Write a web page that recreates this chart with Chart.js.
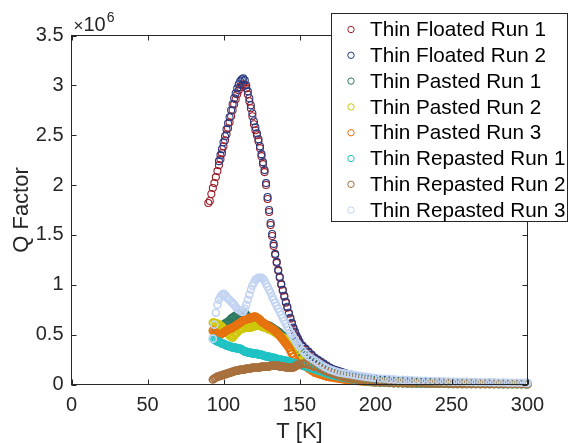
<!DOCTYPE html>
<html>
<head>
<meta charset="utf-8">
<script src="https://cdn.jsdelivr.net/npm/chart.js@4.4.1/dist/chart.umd.min.js"></script>
<style>
  html, body { margin: 0; padding: 0; background: #fff; }
  #wrap { width: 569px; height: 443px; }
</style>
</head>
<body>
<div id="wrap"><canvas id="qChart" width="569" height="443"></canvas></div>
<script>
// temperature grid [K] shared by every run (null = no sample at that T)
const temps = [
  90, 91, 92, 93, 94, 95, 96, 97, 98, 99,
  100, 101, 102, 103, 104, 105, 106, 107, 108, 109,
  110, 111, 112, 113, 114, 115, 116, 117, 118, 119,
  120, 121, 122, 123, 124, 125, 126, 127, 128, 129,
  130, 131, 132, 133, 134, 135, 136, 137, 138, 139,
  140, 141, 142, 143, 144, 145, 146, 147, 148, 149,
  150, 152, 154, 156, 158, 160, 162, 164, 166, 168,
  170, 172, 174, 176, 178, 180, 182, 184, 186, 188,
  190, 192, 194, 196, 198, 200,
  203, 206, 209, 212, 215, 218, 221, 224, 227, 230,
  233, 236, 239, 242, 245, 248, 251, 254, 257, 260,
  263, 266, 269, 272, 275, 278, 281, 284, 287, 290,
  293, 296, 299, 300
];

// Q factor, in units of 1e6
const floated1 = [
  1.82, 1.84, 1.91, 1.97, 2.02, 2.08, 2.14, 2.2, 2.26, 2.32,
  2.39, 2.45, 2.51, 2.57, 2.63, 2.69, 2.75, 2.81, 2.86, 2.91,
  2.95, 2.98, 3.0, 3.01, 3.0, 2.97, 2.91, 2.84, 2.77, 2.69,
  2.61, 2.55, 2.5, 2.44, 2.37, 2.29, 2.21, 2.13, 2.0, 1.86,
  1.73, 1.6, 1.49, 1.39, 1.3, 1.22, 1.14, 1.07, 1.0, 0.94,
  0.88, 0.82, 0.77, 0.71, 0.66, 0.61, 0.56, 0.52, 0.48, 0.45,
  0.42, 0.38, 0.35, 0.32, 0.29, 0.26, 0.24, 0.22, 0.2, 0.18,
  0.165, 0.15, 0.14, 0.13, 0.12, 0.11, 0.1, 0.095, 0.088, 0.082,
  0.076, 0.07, 0.065, 0.06, 0.056, 0.052,
  0.048, 0.044, 0.041, 0.038, 0.035, 0.033, 0.031, 0.029, 0.027, 0.026,
  0.024, 0.023, 0.022, 0.021, 0.02, 0.019, 0.018, 0.017, 0.016, 0.016,
  0.015, 0.014, 0.014, 0.013, 0.013, 0.012, 0.012, 0.011, 0.011, 0.01,
  0.01, 0.01, 0.01, 0.01
];
const floated2 = [
  null, null, null, null, null, null, null, 2.24, 2.3, 2.36,
  2.43, 2.49, 2.56, 2.62, 2.68, 2.75, 2.81, 2.87, 2.92, 2.97,
  3.01, 3.04, 3.06, 3.07, 3.05, 3.0, 2.94, 2.87, 2.8, 2.72,
  2.64, 2.58, 2.52, 2.46, 2.39, 2.31, 2.23, 2.15, 2.02, 1.88,
  1.75, 1.62, 1.51, 1.41, 1.31, 1.23, 1.15, 1.08, 1.01, 0.95,
  0.89, 0.83, 0.78, 0.72, 0.67, 0.62, 0.57, 0.53, 0.49, 0.46,
  0.43, 0.39, 0.36, 0.33, 0.3, 0.27, 0.25, 0.23, 0.21, 0.19,
  0.17, 0.155, 0.145, 0.135, 0.125, 0.115, 0.105, 0.098, 0.09, 0.084,
  0.078, 0.072, 0.067, 0.062, 0.058, 0.054,
  0.05, 0.046, 0.043, 0.04, 0.037, 0.034, 0.032, 0.03, 0.028, 0.027,
  0.025, 0.024, 0.023, 0.022, 0.021, 0.02, 0.019, 0.018, 0.017, 0.017,
  0.016, 0.015, 0.015, 0.014, 0.014, 0.013, 0.013, 0.012, 0.012, 0.011,
  0.011, 0.011, 0.01, 0.01
];
const pasted1 = [
  null, null, null, null, null, 0.55, 0.56, 0.57, 0.58, 0.59,
  0.6, 0.61, 0.62, 0.63, 0.64, 0.66, 0.67, 0.68, 0.69, 0.7,
  0.71, 0.72, 0.72, 0.72, 0.71, 0.7, 0.68, 0.67, 0.66, 0.65,
  0.64, 0.63, 0.63, 0.62, 0.62, 0.61, 0.61, 0.6, 0.6, 0.59,
  0.59, 0.58, 0.57, 0.56, 0.55, 0.54, 0.53, 0.52, 0.5, 0.49,
  0.48, 0.46, 0.45, 0.43, 0.42, 0.4, 0.39, 0.37, 0.36, 0.34,
  0.33, 0.31, 0.29, 0.27, 0.25, 0.23, 0.21, 0.19, 0.17, 0.15,
  0.13, 0.12, 0.11, 0.1, 0.09, 0.085, 0.08, 0.075, 0.07, 0.065,
  0.06, 0.055, 0.05, 0.047, 0.044, 0.041,
  0.038, 0.035, 0.032, 0.03, 0.028, 0.026, 0.024, 0.023, 0.022, 0.021,
  0.02, 0.019, 0.018, 0.017, 0.016, 0.015, 0.015, 0.014, 0.014, 0.013,
  0.013, 0.012, 0.012, 0.011, 0.011, 0.01, 0.01, 0.01, 0.009, 0.009,
  0.009, 0.009, 0.008, 0.008
];
const pasted2 = [
  null, null, null, 0.62, 0.62, 0.61, 0.61, 0.6, 0.59, 0.58,
  0.56, 0.55, 0.53, 0.51, 0.49, 0.48, 0.47, 0.49, 0.51, 0.52,
  0.54, 0.55, 0.56, 0.56, 0.57, 0.57, 0.57, 0.57, 0.57, 0.58,
  0.58, 0.59, 0.59, 0.59, 0.59, 0.58, 0.58, 0.57, 0.57, 0.56,
  0.55, 0.55, 0.54, 0.53, 0.52, 0.51, 0.5, 0.49, 0.48, 0.47,
  0.46, 0.45, 0.44, 0.42, 0.41, 0.4, 0.38, 0.36, 0.34, 0.31,
  0.28, 0.24, 0.21, 0.18, 0.16, 0.14, 0.12, 0.11, 0.1, 0.09,
  0.08, 0.075, 0.07, 0.065, 0.06, 0.055, 0.05, 0.046, 0.042, 0.039,
  0.036, 0.033, 0.03, 0.028, 0.026, 0.024,
  0.022, 0.02, 0.018, 0.017, 0.016, 0.015, 0.014, 0.013, 0.012, 0.011,
  0.01, 0.01, 0.009, 0.009, 0.008, 0.008, 0.008, 0.007, 0.007, 0.007,
  0.006, 0.006, 0.006, 0.006, 0.005, 0.005, 0.005, 0.005, 0.005, 0.005,
  0.005, 0.005, 0.005, 0.005
];
const pasted3 = [
  null, null, null, 0.54, 0.53, 0.52, 0.51, 0.5, 0.5, 0.51,
  0.52, 0.53, 0.54, 0.55, 0.56, 0.56, 0.57, 0.58, 0.59, 0.6,
  0.61, 0.62, 0.63, 0.64, 0.65, 0.65, 0.66, 0.66, 0.67, 0.67,
  0.68, 0.68, 0.67, 0.66, 0.65, 0.63, 0.62, 0.61, 0.6, 0.59,
  0.58, 0.57, 0.56, 0.55, 0.54, 0.52, 0.51, 0.49, 0.47, 0.45,
  0.43, 0.41, 0.39, 0.37, 0.34, 0.31, 0.28, 0.25, 0.23, 0.21,
  0.2, 0.19, 0.18, 0.16, 0.14, 0.12, 0.11, 0.1, 0.09, 0.08,
  0.075, 0.07, 0.065, 0.06, 0.055, 0.05, 0.046, 0.042, 0.039, 0.036,
  0.033, 0.03, 0.028, 0.026, 0.024, 0.022,
  0.02, 0.018, 0.016, 0.015, 0.014, 0.013, 0.012, 0.011, 0.01, 0.01,
  0.009, 0.009, 0.008, 0.008, 0.008, 0.007, 0.007, 0.007, 0.006, 0.006,
  0.006, 0.006, 0.005, 0.005, 0.005, 0.005, 0.005, 0.004, 0.004, 0.004,
  0.004, 0.004, 0.004, 0.004
];
const repasted1 = [
  null, null, null, 0.46, 0.45, 0.44, 0.43, 0.43, 0.42, 0.41,
  0.41, 0.4, 0.39, 0.39, 0.38, 0.38, 0.37, 0.37, 0.37, 0.36,
  0.36, 0.36, 0.35, 0.34, 0.33, 0.33, 0.32, 0.32, 0.32, 0.31,
  0.31, 0.31, 0.31, 0.3, 0.3, 0.3, 0.29, 0.29, 0.28, 0.28,
  0.28, 0.27, 0.27, 0.27, 0.26, 0.26, 0.25, 0.25, 0.25, 0.24,
  0.24, 0.24, 0.23, 0.23, 0.22, 0.22, 0.21, 0.21, 0.21, 0.2,
  0.2, 0.19, 0.18, 0.17, 0.16, 0.15, 0.14, 0.13, 0.12, 0.11,
  0.1, 0.09, 0.085, 0.08, 0.07, 0.065, 0.06, 0.055, 0.05, 0.045,
  0.04, 0.036, 0.032, 0.029, 0.026, 0.023,
  0.02, 0.018, 0.016, 0.014, 0.013, 0.012, 0.011, 0.01, 0.009, 0.009,
  0.008, 0.008, 0.007, 0.007, 0.007, 0.006, 0.006, 0.006, 0.006, 0.005,
  0.005, 0.005, 0.005, 0.005, 0.005, 0.005, 0.004, 0.004, 0.004, 0.004,
  0.004, 0.004, 0.004, 0.004
];
const repasted2 = [
  null, null, null, 0.05, 0.06, 0.07, 0.08, 0.08, 0.09, 0.09,
  0.1, 0.1, 0.11, 0.11, 0.12, 0.12, 0.13, 0.13, 0.14, 0.14,
  0.14, 0.15, 0.15, 0.15, 0.15, 0.16, 0.16, 0.16, 0.16, 0.17,
  0.17, 0.17, 0.17, 0.17, 0.17, 0.18, 0.18, 0.18, 0.18, 0.18,
  0.18, 0.19, 0.19, 0.19, 0.19, 0.19, 0.19, 0.18, 0.18, 0.18,
  0.18, 0.17, 0.17, 0.17, 0.17, 0.17, 0.17, 0.18, 0.19, 0.2,
  0.2, 0.21, 0.21, 0.2, 0.19, 0.18, 0.17, 0.16, 0.14, 0.13,
  0.12, 0.11, 0.1, 0.09, 0.08, 0.07, 0.065, 0.06, 0.055, 0.05,
  0.045, 0.04, 0.035, 0.03, 0.03, 0.025,
  0.022, 0.02, 0.018, 0.016, 0.015, 0.014, 0.013, 0.012, 0.011, 0.01,
  0.01, 0.009, 0.009, 0.008, 0.008, 0.008, 0.007, 0.007, 0.007, 0.006,
  0.006, 0.006, 0.006, 0.006, 0.005, 0.005, 0.005, 0.005, 0.005, 0.005,
  0.005, 0.005, 0.005, 0.005
];
const repasted3 = [
  null, null, null, 0.46, 0.6, 0.72, 0.8, 0.85, 0.88, 0.9,
  0.91, 0.9, 0.88, 0.86, 0.85, 0.83, 0.82, 0.8, 0.78, 0.76,
  0.75, 0.74, 0.73, 0.73, 0.76, 0.8, 0.85, 0.9, 0.95, 0.99,
  1.02, 1.05, 1.06, 1.07, 1.07, 1.07, 1.06, 1.04, 1.01, 0.98,
  0.95, 0.92, 0.88, 0.85, 0.82, 0.79, 0.76, 0.73, 0.7, 0.67,
  0.64, 0.61, 0.58, 0.55, 0.52, 0.5, 0.47, 0.45, 0.42, 0.4,
  0.38, 0.34, 0.31, 0.28, 0.26, 0.24, 0.22, 0.2, 0.18, 0.165,
  0.15, 0.14, 0.13, 0.12, 0.115, 0.11, 0.105, 0.1, 0.095, 0.09,
  0.085, 0.08, 0.076, 0.072, 0.068, 0.065,
  0.06, 0.057, 0.054, 0.051, 0.048, 0.046, 0.044, 0.042, 0.04, 0.038,
  0.036, 0.035, 0.033, 0.032, 0.031, 0.03, 0.029, 0.028, 0.027, 0.026,
  0.025, 0.024, 0.023, 0.022, 0.022, 0.021, 0.02, 0.02, 0.019, 0.018,
  0.018, 0.017, 0.016, 0.016
];

const runNames = [
  'Thin Floated Run 1', 'Thin Floated Run 2',
  'Thin Pasted Run 1', 'Thin Pasted Run 2', 'Thin Pasted Run 3',
  'Thin Repasted Run 1', 'Thin Repasted Run 2', 'Thin Repasted Run 3'
];
const runColors = [
  '#9a1f28', '#2a3a80',
  '#2f7a62', '#cfc80a', '#e6720f',
  '#1fc2c4', '#a8703c', '#c2d4f2'
];
// the pasted / repasted runs are sampled far more densely, so their rings merge into bands
const runRing = [1.1, 1.1, 1.7, 1.7, 1.8, 1.6, 1.7, 1.6];
const runs = [floated1, floated2, pasted1, pasted2, pasted3, repasted1, repasted2, repasted3];

const FONT = "'Liberation Sans', Arial, Helvetica, sans-serif";
const AXIS_COLOR = '#262626';

// box around the axes, inward ticks and the x10^6 exponent
const axesBox = {
  id: 'axesBox',
  afterDatasetsDraw(chart) {
    const c = chart.ctx;
    const a = chart.chartArea;
    const xs = chart.scales.x, ys = chart.scales.y;
    c.save();
    c.strokeStyle = AXIS_COLOR;
    c.lineWidth = 1;
    c.strokeRect(a.left, a.top, a.right - a.left, a.bottom - a.top);
    c.beginPath();
    xs.ticks.forEach(t => {
      const px = Math.round(xs.getPixelForValue(t.value)) + 0.5;
      c.moveTo(px, a.bottom); c.lineTo(px, a.bottom - 5);
      c.moveTo(px, a.top); c.lineTo(px, a.top + 5);
    });
    ys.ticks.forEach(t => {
      const py = Math.round(ys.getPixelForValue(t.value)) + 0.5;
      c.moveTo(a.left, py); c.lineTo(a.left + 5, py);
      c.moveTo(a.right, py); c.lineTo(a.right - 5, py);
    });
    c.stroke();

    c.fillStyle = AXIS_COLOR;
    c.textBaseline = 'alphabetic';
    c.font = '17px ' + FONT;
    c.fillText('\u00d7', a.left + 2, a.top - 5);
    let w = c.measureText('\u00d7').width;
    c.font = '20px ' + FONT;
    c.fillText('10', a.left + 2 + w, a.top - 5);
    w += c.measureText('10').width;
    c.font = '14px ' + FONT;
    c.fillText('6', a.left + 3 + w, a.top - 14);
    c.restore();
  }
};

// legend box in the upper right
const legendBox = {
  id: 'legendBox',
  afterDraw(chart) {
    const c = chart.ctx;
    c.save();
    c.fillStyle = '#fff';
    c.fillRect(331.5, 13.5, 236, 208);
    c.strokeStyle = AXIS_COLOR;
    c.lineWidth = 1;
    c.strokeRect(331.5, 13.5, 236, 208);
    c.font = '20.7px ' + FONT;
    c.textBaseline = 'middle';
    chart.data.datasets.forEach((ds, i) => {
      const y = 29.5 + i * 25.8;
      c.beginPath();
      c.arc(351, y, 3.2, 0, Math.PI * 2);
      c.lineWidth = 1;
      c.strokeStyle = ds.borderColor;
      c.stroke();
      c.fillStyle = '#000';
      c.fillText(ds.label, 370, y + 1);
    });
    c.restore();
  }
};

const datasets = runs.map((vals, i) => ({
  label: runNames[i],
  data: temps.map((t, j) => ({ x: t, y: vals[j] })).filter(p => p.y !== null),
  borderColor: runColors[i],
  backgroundColor: 'rgba(0,0,0,0)',
  pointRadius: 3.5,
  pointBorderWidth: runRing[i],
  order: runs.length - i,
  clip: false
}));

Chart.defaults.font.family = FONT;
Chart.defaults.color = AXIS_COLOR;

new Chart(document.getElementById('qChart'), {
  type: 'scatter',
  data: { datasets: datasets },
  options: {
    responsive: false,
    animation: false,
    devicePixelRatio: 1,
    events: [],
    layout: { padding: { left: 10, top: 35.5, right: 41.5, bottom: 0 } },
    plugins: { legend: { display: false }, tooltip: { enabled: false } },
    scales: {
      x: {
        type: 'linear', min: 0, max: 300,
        grid: { display: false, drawTicks: false },
        border: { display: false },
        ticks: { stepSize: 50, autoSkip: false, maxRotation: 0, padding: 9, color: AXIS_COLOR, font: { size: 20 },
                 callback: v => String(v) },
        title: { display: true, text: 'T [K]', color: AXIS_COLOR, font: { size: 22, lineHeight: 1 }, padding: 0 },
        afterFit: s => { s.height = 58.5; }
      },
      y: {
        type: 'linear', min: 0, max: 3.5,
        grid: { display: false, drawTicks: false },
        border: { display: false },
        ticks: { stepSize: 0.5, autoSkip: false, padding: 8, color: AXIS_COLOR, font: { size: 20 },
                 callback: v => String(v) },
        title: { display: true, text: 'Q Factor', color: AXIS_COLOR, font: { size: 22, lineHeight: 1 }, padding: { top: 1, bottom: 0 } },
        afterFit: s => { s.width = 61.5; }
      }
    }
  },
  plugins: [axesBox, legendBox]
});
</script>
</body>
</html>
